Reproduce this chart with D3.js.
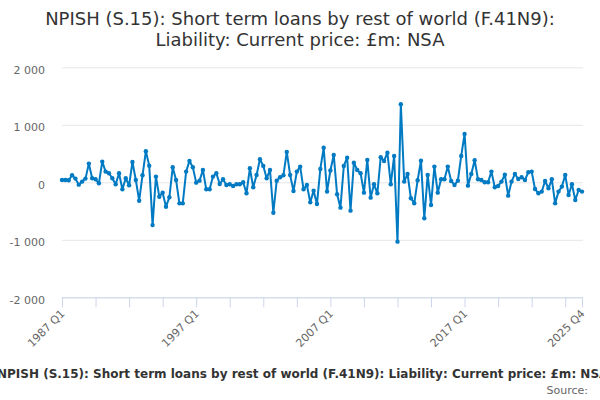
<!DOCTYPE html>
<html>
<head>
<meta charset="utf-8">
<script src="https://cdn.jsdelivr.net/npm/d3@7"></script>
<style>
  body { margin: 0; background: #fff; }
  svg { display: block; font-family: "DejaVu Sans", sans-serif; }
</style>
</head>
<body>
<svg id="chart"></svg>
<script>
const titleLines = ['NPISH (S.15): Short term loans by rest of world (F.41N9):', 'Liability: Current price: £m: NSA']
const caption = 'NPISH (S.15): Short term loans by rest of world (F.41N9): Liability: Current price: £m: NSA'

const firstYear = 1987
const lastYear = 2025
const yTicks = [-2000, -1000, 0, 1000, 2000]
const xTickLabels = ['1987 Q1', '1997 Q1', '2007 Q1', '2017 Q1', '2025 Q4']

// £m, one per quarter, 1987 Q1 .. 2025 Q4
const values = [
  40, 41, 35, 122, 64, -41, 12, 64, 325, 70,
  52, -17, 360, 186, 157, 70, -35, 157, -122, 70,
  -52, 354, 41, -320, 122, 540, 290, -744, 99, -250,
  -180, -424, -261, 261, 41, -366, -366, 186, 372, 261,
  -6, 29, 215, -122, -122, 99, 157, -29, 52, -46,
  -35, -64, -35, -35, 0, -190, 244, -87, 128, 400,
  285, 70, 215, -529, 29, 87, 122, 529, 128, -151,
  186, 273, -122, -46, -349, -145, -378, 232, 600, -160,
  205, 476, -209, -441, 284, 429, -493, 342, 215, 157,
  -180, 389, -267, -35, -191, 435, 371, 516, -35, 458,
  -1032, 1357, 12, 145, -278, -365, 35, 375, -626, 128,
  -394, 273, -180, 52, 52, 273, 23, -46, 29, 458,
  841, -58, 145, 383, 52, 41, 0, 0, 186, -87,
  -64, 12, 133, -232, 12, 145, 58, 87, 41, 174,
  186, -116, -191, -162, 23, -104, 52, -365, -162, -75,
  128, -220, -35, -307, -133, -162
]

const quarters = []
for (let y = firstYear; y <= lastYear; y++) {
  for (let q = 1; q <= 4; q++) quarters.push(`${y} Q${q}`)
}
const data = quarters.map((q, i) => ({ q, v: values[i] }))

const width = 600
const height = 400
const plotLeft = 62
const plotRight = 582
const plotTop = 67.3
const plotBottom = 297.3

const svg = d3.select('#chart').attr('width', width).attr('height', height)

// title
svg.append('text')
  .attr('x', width / 2)
  .attr('y', 25)
  .attr('text-anchor', 'middle')
  .style('font-size', '18px')
  .style('fill', '#333')
  .selectAll('tspan')
  .data(titleLines)
  .enter()
  .append('tspan')
  .attr('x', width / 2)
  .attr('dy', (d, i) => i ? 21 : 0)
  .text(d => d)

const xScale = d3.scalePoint().domain(quarters).range([plotLeft, plotRight])
const yScale = d3.scaleLinear().domain([-2000, 2000]).range([plotBottom, plotTop])

const fmt = d => {
  const s = d3.format(',')(Math.abs(d)).replace(/,/g, ' ')
  return (d < 0 ? '-' : '') + s
}

// gridlines + y labels
const yAxis = d3.axisLeft(yScale).tickValues(yTicks).tickSize(-(plotRight - plotLeft + 1)).tickFormat(fmt)
const gy = svg.append('g')
  .attr('transform', `translate(${plotLeft},0)`)
  .call(yAxis)
gy.select('.domain').remove()
gy.selectAll('.tick line').attr('stroke', '#e6e6e6')
gy.selectAll('.tick text')
  .attr('x', -17)
  .attr('dy', '0.55em')
  .attr('text-anchor', 'end')
  .style('font-size', '11px')
  .style('fill', '#666')
  .style('font-family', '"DejaVu Sans", sans-serif')

// x axis
const tickQs = quarters.filter((d, i) => i % 10 === 0).concat([quarters[quarters.length - 1]])
const xAxis = d3.axisBottom(xScale).tickValues(tickQs).tickSize(10).tickSizeOuter(0)
  .tickFormat(d => xTickLabels.includes(d) ? d : '')
const gx = svg.append('g')
  .attr('transform', `translate(0,${plotBottom})`)
  .call(xAxis)
gx.select('.domain').attr('stroke', '#ccd6eb')
gx.selectAll('.tick line').attr('stroke', '#ccd6eb')
gx.selectAll('.tick text')
  .attr('y', 0)
  .attr('dy', 0)
  .attr('text-anchor', 'end')
  .attr('transform', 'translate(3,17) rotate(-45)')
  .style('font-size', '11px')
  .style('fill', '#666')
  .style('font-family', '"DejaVu Sans", sans-serif')

// series
const line = d3.line().x(d => xScale(d.q)).y(d => yScale(d.v))
svg.append('path')
  .datum(data)
  .attr('d', line)
  .attr('fill', 'none')
  .attr('stroke', '#007ac3')
  .attr('stroke-width', 2)
  .attr('stroke-linejoin', 'round')

svg.append('g').selectAll('circle')
  .data(data)
  .enter()
  .append('circle')
  .attr('cx', d => xScale(d.q))
  .attr('cy', d => yScale(d.v))
  .attr('r', 2.2)
  .attr('fill', '#007ac3')

// caption + source (caption runs past the right edge, as in the original)
svg.append('text')
  .attr('x', -3)
  .attr('y', 377.5)
  .attr('text-anchor', 'start')
  .style('font-size', '12px')
  .style('font-weight', 'bold')
  .style('fill', '#333')
  .text(caption)

svg.append('text')
  .attr('x', 588)
  .attr('y', 394)
  .attr('text-anchor', 'end')
  .style('font-size', '11px')
  .style('fill', '#666')
  .text('Source:')
</script>
</body>
</html>
